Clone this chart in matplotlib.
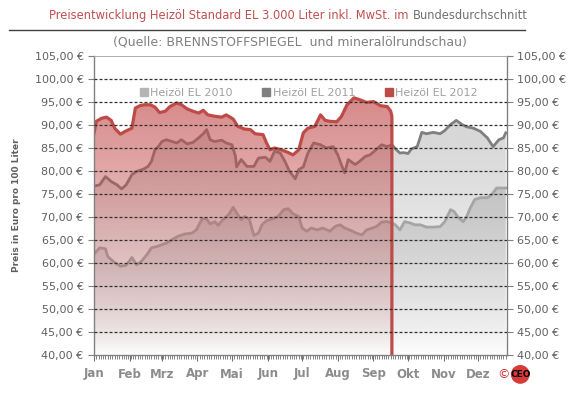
import numpy as np
import matplotlib
matplotlib.use("Agg")
import matplotlib.pyplot as plt
import matplotlib.colors as mcolors
from matplotlib.patches import Ellipse
from matplotlib.collections import LineCollection
from matplotlib.ticker import FixedLocator, MultipleLocator

# day of year / price (EUR per 100 l)
days_2010 = [1, 5, 10, 12, 17, 23, 28, 33, 37, 41, 46, 50, 55, 59, 63, 68, 73, 79, 85, 89,
             94, 98, 101, 105, 108, 112, 117, 121, 124, 128, 131, 135, 139, 143, 146, 150,
             155, 160, 165, 169, 173, 178, 181, 185, 189, 194, 199, 205, 210, 214, 218, 224,
             228, 233, 237, 242, 246, 250, 255, 259, 262, 266, 270, 275, 279, 284, 289, 295,
             301, 305, 310, 313, 317, 321, 324, 327, 331, 336, 342, 346, 350, 358]
price_2010 = [62.2, 63.3, 63.1, 61.4, 60.3, 59.3, 59.5, 61.2, 59.6, 60.3, 61.8, 63.3, 63.6,
              64.0, 64.3, 65.1, 65.8, 66.3, 66.5, 67.2, 69.6, 69.6, 68.5, 69.0, 68.2, 69.4,
              70.5, 72.1, 70.9, 69.4, 70.1, 69.6, 66.0, 66.5, 68.3, 69.2, 69.6, 70.1, 71.6,
              71.8, 70.7, 70.1, 67.6, 66.9, 67.6, 67.2, 67.6, 66.9, 68.0, 68.3, 67.6, 67.0,
              66.5, 66.1, 67.2, 67.6, 68.0, 68.9, 69.0, 68.7, 68.3, 67.2, 69.0, 68.7, 68.3,
              68.3, 67.8, 67.8, 67.9, 69.0, 71.6, 71.2, 69.8, 69.0, 70.1, 71.9, 73.8, 74.2,
              74.2, 74.9, 76.3, 76.3]

days_2011 = [0, 5, 10, 15, 20, 24, 28, 33, 37, 43, 47, 50, 53, 56, 59, 63, 68, 72, 76, 81,
             86, 91, 95, 98, 101, 105, 111, 115, 120, 123, 124, 128, 133, 139, 143, 149, 153,
             157, 162, 166, 170, 175, 178, 182, 186, 191, 197, 202, 208, 212, 215, 218, 221,
             227, 231, 236, 240, 246, 250, 255, 259, 263, 266, 269, 273, 276, 281, 285, 289,
             295, 301, 305, 310, 315, 320, 324, 330, 336, 342, 347, 352, 356, 358]
price_2011 = [76.7, 77.0, 78.8, 77.7, 77.0, 76.1, 77.0, 79.2, 79.9, 80.4, 81.0, 82.1, 84.6,
              85.3, 86.4, 86.8, 86.4, 86.1, 86.8, 85.9, 86.2, 87.2, 88.1, 89.0, 86.8, 86.4,
              86.7, 86.1, 85.7, 83.2, 80.9, 82.5, 81.0, 81.0, 82.8, 83.0, 82.1, 84.3, 83.9,
              82.1, 79.9, 78.3, 80.3, 80.9, 83.9, 86.1, 85.7, 85.0, 85.3, 83.5, 81.4, 79.6,
              82.5, 81.4, 82.1, 83.2, 83.5, 84.8, 85.7, 85.3, 85.7, 84.6, 83.9, 84.0, 83.8,
              84.8, 85.3, 88.4, 88.1, 88.4, 88.1, 88.8, 90.1, 91.0, 90.1, 89.6, 89.3, 88.6,
              87.2, 85.3, 86.8, 87.2, 88.3]

days_2012 = [0, 2, 7, 11, 15, 18, 23, 27, 33, 36, 40, 44, 49, 53, 57, 62, 66, 72, 76, 81,
             86, 91, 95, 99, 105, 111, 115, 121, 125, 131, 136, 140, 147, 150, 153, 157, 163,
             169, 173, 178, 182, 186, 192, 197, 201, 205, 211, 215, 220, 226, 231, 237, 243,
             249, 255, 258, 259]
price_2012 = [88.2, 90.8, 91.5, 91.7, 91.0, 89.3, 88.0, 88.6, 89.3, 93.7, 94.2, 94.4, 94.4,
              93.9, 92.7, 93.0, 94.0, 94.8, 94.4, 93.5, 93.0, 92.6, 93.2, 92.2, 91.9, 91.7,
              92.2, 91.3, 89.7, 89.1, 89.0, 88.1, 87.9, 86.1, 84.6, 85.0, 84.6, 84.0, 83.5,
              84.6, 88.3, 89.3, 89.7, 92.2, 91.0, 90.8, 90.7, 91.8, 94.4, 95.9, 95.5, 94.9,
              95.1, 94.2, 94.0, 93.0, 91.9]

month_starts = [0, 31, 59, 90, 120, 151, 181, 212, 243, 273, 304, 334]
month_names = ["Jan", "Feb", "Mrz", "Apr", "Mai", "Jun", "Jul", "Aug", "Sep", "Okt", "Nov", "Dez"]
y_ticks = np.arange(40, 106, 5)

YMIN, YMAX = 40, 105
XMAX = 359

plt.rcParams['font.family'] = ['DejaVu Sans']

fig = plt.figure(figsize=(5.8, 4.0), dpi=100)
ax = fig.add_axes([0.162, 0.1125, 0.712, 0.7475])


def grad_fill(x, y, color, a_top, z, power=1.0):
    """area under a line with a vertical alpha gradient fading to white at the bottom"""
    poly = ax.fill_between(x, y, YMIN, color='none', lw=0)
    n = 256
    t = np.linspace(0, 1, n) ** power
    img = np.zeros((n, 1, 4))
    img[..., :3] = mcolors.to_rgb(color)
    img[..., 3] = (t * a_top)[:, None]
    im = ax.imshow(img, extent=[0, XMAX, YMIN, YMAX], origin='lower',
                   aspect='auto', zorder=z, interpolation='bilinear')
    im.set_clip_path(poly.get_paths()[0], transform=ax.transData)


grad_fill(days_2011, price_2011, '#9a9a9a', 0.5, 0.5, power=0.8)
grad_fill(days_2010, price_2010, '#8c8c8c', 0.55, 0.6, power=0.8)
ax.plot(days_2011, price_2011, color='#7f7f7f', lw=2.0, zorder=0.8)
ax.plot(days_2010, price_2010, color='#a5a5a5', lw=2.0, zorder=0.8)

grad_fill(days_2012, price_2012, '#c24a4a', 0.75, 1.0, power=0.9)
ax.plot(days_2012 + [days_2012[-1]], price_2012 + [YMIN], color='#be4b48', lw=2.3,
        zorder=1.5, solid_joinstyle='round')

ax.set_xlim(0, XMAX)
ax.set_ylim(YMIN, YMAX)

# dashed grid on top of the areas, built from short segments (3 px on, 2 px off)
dash_len, period = 2.6, 4.35
starts = np.arange(0, XMAX, period)
segs = [[(s, v), (min(s + dash_len, XMAX), v)] for v in y_ticks[1:-1] for s in starts]
ax.add_collection(LineCollection(segs, colors='#303030', linewidths=0.9, zorder=3,
                                 capstyle='butt'))

# legend proxies
ax.plot([], [], 's', color='#b4b4b4', ms=6, label='Heizöl EL 2010')
ax.plot([], [], 's', color='#7f7f7f', ms=6, label='Heizöl EL 2011')
ax.plot([], [], 's', color='#be4b48', ms=6, label='Heizöl EL 2012')
leg = ax.legend(loc='center', bbox_to_anchor=(0.52, 0.875), ncol=3, frameon=False,
                fontsize=8, handlelength=0.8, handletextpad=0.2, columnspacing=2.6)
for txt in leg.get_texts():
    txt.set_color('#a0a0a0')

ax.yaxis.set_major_locator(FixedLocator(y_ticks))
ax.set_yticklabels([f"{v:.2f} €".replace('.', ',') for v in y_ticks])
ax.tick_params(axis='y', which='both', left=True, right=True, labelleft=True,
               labelright=True, labelsize=8, colors='#808080', labelcolor='#606060',
               length=4, width=0.8)

ax.xaxis.set_major_locator(FixedLocator(month_starts))
ax.set_xticklabels(month_names)
ax.xaxis.set_minor_locator(MultipleLocator(2))
ax.tick_params(axis='x', which='major', length=4, labelsize=8.5, colors='#707070',
               labelcolor='#8c8c8c', pad=5)
ax.tick_params(axis='x', which='minor', length=3, color='#707070', width=0.6)
for lab in ax.get_xticklabels():
    lab.set_fontweight('bold')

for side in ['left', 'right', 'bottom']:
    ax.spines[side].set_color('#808080')
    ax.spines[side].set_linewidth(1.0)
ax.spines['top'].set_color('#a0a0a0')
ax.spines['top'].set_linewidth(0.6)

ax.set_ylabel('Preis in Euro pro 100 Liter', fontsize=6.5, fontweight='bold',
              color='#606060', labelpad=10)

# title block: red part + gray part, centred together
t1 = fig.text(0.5, 0.962, 'Preisentwicklung Heizöl Standard EL 3.000 Liter inkl. MwSt. im ',
              ha='right', va='center', fontsize=8.3, color='#c0504d')
t2 = fig.text(0.5, 0.962, 'Bundesdurchschnitt', ha='left', va='center', fontsize=8.3,
              color='#707070')
fig.canvas.draw()
w1 = t1.get_window_extent().width
w2 = t2.get_window_extent().width
shift = ((w1 + w2) / 2 - w1) / fig.bbox.width
t1.set_x(0.497 - shift)
t2.set_x(0.497 - shift)

fig.add_artist(plt.Line2D([0.015, 0.905], [0.925, 0.925], color='#404040', lw=1.0))
fig.text(0.5, 0.895, '(Quelle: BRENNSTOFFSPIEGEL  und mineralölrundschau)', ha='center',
         va='center', fontsize=9, color='#808080')

# small copyright mark
fig.text(0.868, 0.064, '©', ha='center', va='center', fontsize=9, color='#d03030')
fig.add_artist(Ellipse((0.897, 0.064), 0.03, 0.03 * 580 / 400, transform=fig.transFigure,
                       color='#d83a3a'))
fig.text(0.897, 0.064, 'CEO', ha='center', va='center', fontsize=6.5, fontweight='bold',
         color='black')

fig.savefig('out.png', dpi=100, facecolor='white')
